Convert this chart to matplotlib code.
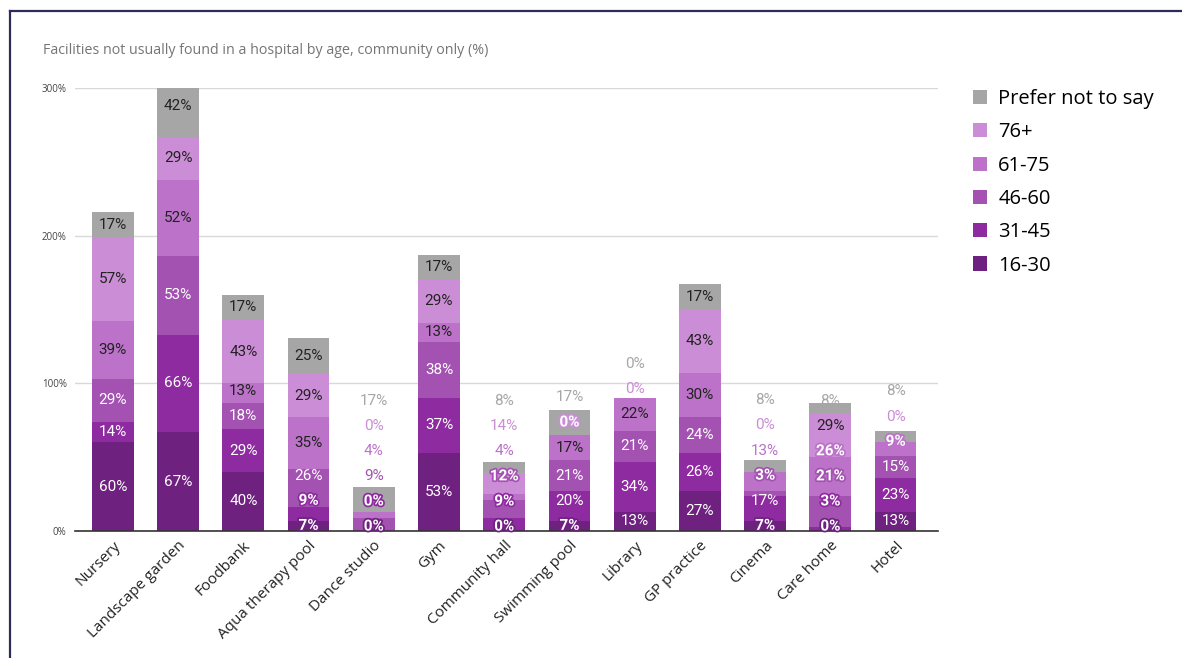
import matplotlib
matplotlib.use("Agg")
import matplotlib.pyplot as plt
import matplotlib.patheffects as pe
from matplotlib.patches import Patch
import numpy as np

categories = ["Nursery", "Landscape garden", "Foodbank", "Aqua therapy pool",
              "Dance studio", "Gym", "Community hall", "Swimming pool",
              "Library", "GP practice", "Cinema", "Care home", "Hotel"]

series_names = ["16-30", "31-45", "46-60", "61-75", "76+", "Prefer not to say"]

age_16_30 = [60, 67, 40, 7, 0, 53, 0, 7, 13, 27, 7, 0, 13]
age_31_45 = [14, 66, 29, 9, 0, 37, 9, 20, 34, 26, 17, 3, 23]
age_46_60 = [29, 53, 18, 26, 9, 38, 12, 21, 21, 24, 3, 21, 15]
age_61_75 = [39, 52, 13, 35, 4, 13, 4, 17, 22, 30, 13, 26, 9]
age_76_plus = [57, 29, 43, 29, 0, 29, 14, 0, 0, 43, 0, 29, 0]
prefer_not = [17, 42, 17, 25, 17, 17, 8, 17, 0, 17, 8, 8, 8]

yticks = [0, 100, 200, 300]
ytick_labels = ["0%", "100%", "200%", "300%"]

colors = ["#6f2180", "#8f2ba0", "#a352b1", "#bb72c8", "#cb8dd5", "#a6a6a6"]
dark_text = [False, False, False, True, True, True]

data = np.array([age_16_30, age_31_45, age_46_60, age_61_75, age_76_plus, prefer_not], dtype=float)

W, H = 1182, 658
fig = plt.figure(figsize=(W / 100, H / 100), dpi=100)
fig.patch.set_facecolor("white")

# frame lines along the top and left edge
fig.add_artist(plt.Line2D([10 / W, 10 / W], [0, 1 - 11 / H], transform=fig.transFigure,
                          color="#2d2b5c", lw=1.6))
fig.add_artist(plt.Line2D([10 / W, 1], [1 - 11 / H, 1 - 11 / H], transform=fig.transFigure,
                          color="#2d2b5c", lw=1.6))

ax = fig.add_axes([75 / W, 1 - 531 / H, (938 - 75) / W, (531 - 88) / H])
x = np.arange(len(categories))
bar_w = 0.64

bottom = np.zeros(len(categories))
for i, name in enumerate(series_names):
    ax.bar(x, data[i], bar_w, bottom=bottom, color=colors[i], label=name,
           linewidth=0, zorder=2)
    bottom += data[i]
totals = bottom.copy()

ax.set_xlim(-0.58, 12.65)
ax.set_ylim(0, 300)
ax.set_yticks(yticks)
ax.set_yticklabels(ytick_labels, fontsize=7, color="#444444", family="Open Sans")
ax.yaxis.grid(True, color="#d9d9d9", lw=1, zorder=0)
ax.set_axisbelow(True)
for s in ["top", "right", "left"]:
    ax.spines[s].set_visible(False)
ax.spines["bottom"].set_color("#333333")
ax.spines["bottom"].set_linewidth(1.2)
ax.spines["bottom"].set_zorder(3)
ax.tick_params(axis="y", length=0, pad=6)
ax.tick_params(axis="x", length=0, pad=5)
ax.set_xticks(x)
ax.set_xticklabels(categories, rotation=45, ha="right", rotation_mode="anchor",
                   fontsize=11, color="#222222", family="Open Sans")

# value labels: centred in each segment, pushed upward to avoid overlap
gap = 17
for j in range(len(categories)):
    cum = np.concatenate([[0], np.cumsum(data[:, j])])
    prev = -1e9
    for i in range(len(series_names)):
        seg_lo, seg_hi = cum[i], cum[i + 1]
        pos = max((seg_lo + seg_hi) / 2, prev + gap, 3)
        prev = pos
        txt = f"{int(data[i, j])}%"
        kw = dict(ha="center", va="center", fontsize=11, family="Roboto", zorder=5)
        if pos > min(totals[j], 300) - 4:
            ax.text(j, pos, txt, color=colors[i], **kw)
        elif seg_lo <= pos <= seg_hi and data[i, j] >= 9:
            ax.text(j, pos, txt, color="#222222" if dark_text[i] else "white", **kw)
        else:
            ax.text(j, pos, txt, color="white",
                    path_effects=[pe.withStroke(linewidth=2.5, foreground=colors[i])],
                    fontweight="bold", **kw)

fig.text(43 / W, 1 - 50 / H, "Facilities not usually found in a hospital by age, community only (%)",
         fontsize=10.3, color="#757575", family="Open Sans", va="center")

handles = [Patch(facecolor=colors[i], edgecolor="none") for i in range(len(series_names))][::-1]
labels = series_names[::-1]
fig.legend(handles, labels, loc="upper left", bbox_to_anchor=(955 / W, 1 - 71 / H),
           frameon=False, handlelength=0.7, handleheight=0.7,
           handletextpad=0.55, labelspacing=0.66, prop={"family": "Open Sans", "size": 14.5})

fig.savefig("out.png", dpi=100)
